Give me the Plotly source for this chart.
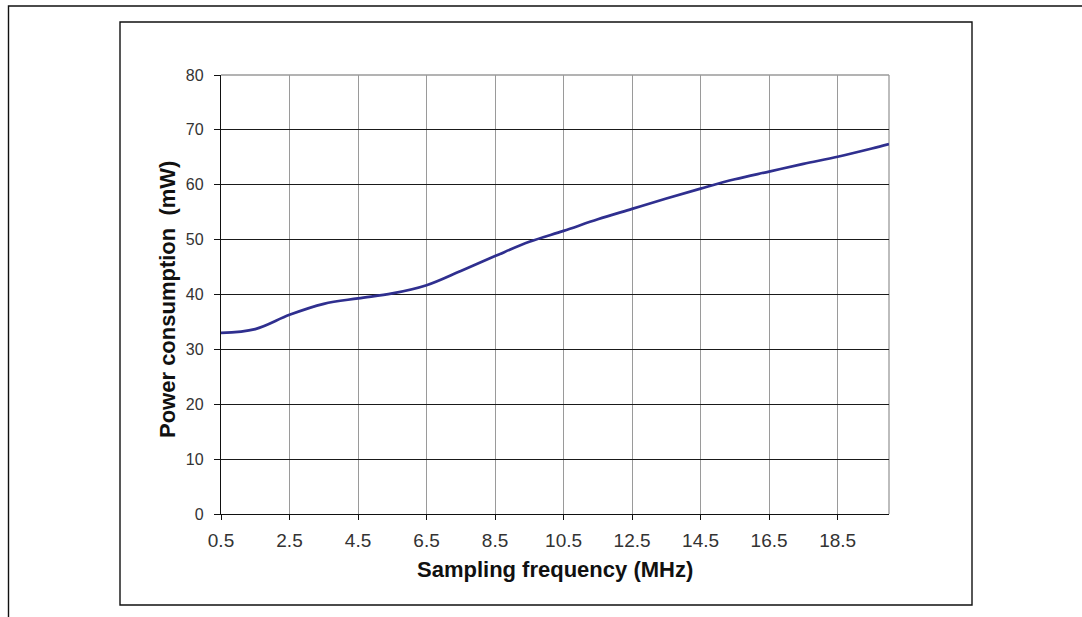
import plotly.graph_objects as go

# Data
freq_mhz = [0.5, 1.5, 2.5, 3.5, 4.5, 5.5, 6.5, 7.5, 8.5, 9.5, 10.5,
            11.5, 12.5, 13.5, 14.5, 15.5, 16.5, 17.5, 18.5, 19.5, 20.0]
power_mw = [33.0, 33.7, 36.3, 38.3, 39.3, 40.2, 41.7, 44.3, 47.0, 49.6, 51.6,
            53.7, 55.6, 57.5, 59.3, 61.0, 62.4, 63.8, 65.1, 66.6, 67.4]
x_ticks = [0.5, 2.5, 4.5, 6.5, 8.5, 10.5, 12.5, 14.5, 16.5, 18.5]
x_tick_labels = ["0.5", "2.5", "4.5", "6.5", "8.5", "10.5", "12.5", "14.5", "16.5", "18.5"]
y_ticks = [0, 10, 20, 30, 40, 50, 60, 70, 80]
x_title = "Sampling frequency (MHz)"
y_title = "Power consumption\u00a0 (mW)"

W, H = 1082, 617
L, R, T, B = 221, 889, 75, 514


def px(x):
    return (x - L) / (R - L)


def py(y):
    return (B - y) / (B - T)


fig = go.Figure()
fig.add_trace(go.Scatter(
    x=freq_mhz, y=power_mw, mode="lines",
    line=dict(color="#2f2f8f", width=2.7, shape="spline", smoothing=1.0),
    hoverinfo="skip", showlegend=False,
))

font_family = "Liberation Sans, Arial, sans-serif"

shapes = [
    # gray top and right plot borders
    dict(type="line", xref="paper", yref="paper", x0=0, x1=1, y0=1, y1=1,
         line=dict(color="#9a9a9a", width=1.3), layer="between"),
    dict(type="line", xref="paper", yref="paper", x0=1, x1=1, y0=0, y1=1,
         line=dict(color="#9a9a9a", width=1.3), layer="between"),
    # inner chart frame
    dict(type="rect", xref="paper", yref="paper",
         x0=px(120), x1=px(972), y0=py(605), y1=py(22),
         line=dict(color="#111111", width=1.4), layer="below"),
    # outer document frame
    dict(type="path", xref="paper", yref="paper",
         path=f"M {px(8.5)} {py(640)} L {px(8.5)} {py(6)} L {px(1100)} {py(6)}",
         line=dict(color="#111111", width=1.4), layer="below"),
]

fig.update_layout(
    width=W, height=H,
    margin=dict(l=L, r=W - R, t=T, b=H - B, pad=0),
    paper_bgcolor="white", plot_bgcolor="white",
    font=dict(family=font_family, color="#222222", size=15),
    shapes=shapes,
    xaxis=dict(
        range=[0.5, 20.0], tickmode="array", tickvals=x_ticks, ticktext=x_tick_labels,
        showgrid=True, gridcolor="#9a9a9a", gridwidth=1.3,
        showline=True, linecolor="#111111", linewidth=1.4,
        ticks="outside", ticklen=5, tickcolor="#111111", tickwidth=1,
        ticklabelstandoff=4,
        tickfont=dict(size=19, color="#333333"), zeroline=False,
    ),
    yaxis=dict(
        range=[0, 80], tickmode="array", tickvals=y_ticks,
        showgrid=True, gridcolor="#1a1a1a", gridwidth=1.3,
        showline=True, linecolor="#111111", linewidth=1.4,
        ticks="outside", ticklen=6, tickcolor="#111111", tickwidth=1,
        ticklabelstandoff=7,
        tickfont=dict(size=16, color="#333333"), zeroline=False,
    ),
    annotations=[
        dict(text=f"<b>{x_title}</b>", xref="paper", yref="paper",
             x=px(555), y=py(569), xanchor="center", yanchor="middle",
             showarrow=False, font=dict(size=22, color="#111111")),
        dict(text=f"<b>{y_title}</b>", xref="paper", yref="paper",
             x=px(167), y=py(300), xanchor="center", yanchor="middle",
             textangle=-90, showarrow=False, font=dict(size=22, color="#111111")),
    ],
)

fig.write_html("out.html", config={"displayModeBar": False},
               post_script="document.body.style.margin='0';")
